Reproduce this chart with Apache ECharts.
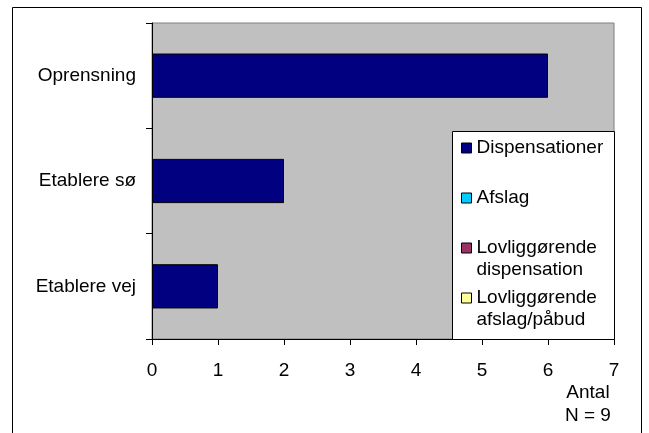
<!DOCTYPE html>
<html>
<head>
<meta charset="utf-8">
<script src="https://cdn.jsdelivr.net/npm/echarts@6/dist/echarts.min.js"></script>
<style>
html,body{margin:0;padding:0;background:#fff;}
#chart{width:649px;height:433px;}
</style>
</head>
<body>
<div id="chart"></div>
<script>
// Data
var categories = ['Etablere vej', 'Etablere sø', 'Oprensning'];
var seriesNames = ['Dispensationer', 'Afslag', 'Lovliggørende dispensation', 'Lovliggørende afslag/påbud'];
var dispensationer = [1, 2, 6];
var afslag = ['-', '-', '-'];
var lovligDisp = ['-', '-', '-'];
var lovligAfslag = ['-', '-', '-'];
var seriesColors = ['#000080', '#00CCFF', '#993366', '#FFFF99'];
var xTicks = [0, 1, 2, 3, 4, 5, 6, 7];
var axisTitle = 'Antal';
var nNote = 'N = 9';

var seriesData = [dispensationer, afslag, lovligDisp, lovligAfslag];
var FONT = 'Liberation Sans, Arial, sans-serif';

var chart = echarts.init(document.getElementById('chart'), null, {renderer: 'canvas'});

// each legend label has three lines; the icon is centred on the middle one
var legendLabels = {
  'Dispensationer': '\u00a0\nDispensationer\n\u00a0',
  'Afslag': '\u00a0\nAfslag\n\u00a0',
  'Lovliggørende dispensation': '\u00a0\nLovliggørende\ndispensation',
  'Lovliggørende afslag/påbud': '\u00a0\nLovliggørende\nafslag/påbud'
};

var option = {
  backgroundColor: '#ffffff',
  animation: false,
  grid: {
    left: 152, top: 23, right: 35, bottom: 94,
    show: true,
    backgroundColor: '#C0C0C0',
    borderColor: '#808080',
    borderWidth: 1
  },
  xAxis: {
    type: 'value',
    min: xTicks[0],
    max: xTicks[xTicks.length - 1],
    interval: 1,
    axisLine: {show: true, onZero: false, lineStyle: {color: '#000', width: 1}},
    axisTick: {show: true, inside: false, length: 6, lineStyle: {color: '#000'}},
    axisLabel: {color: '#000', fontSize: 19, fontFamily: FONT, margin: 22},
    splitLine: {show: false}
  },
  yAxis: {
    type: 'category',
    data: categories,
    axisLine: {show: true, lineStyle: {color: '#000', width: 1}},
    axisTick: {show: true, inside: false, length: 6, alignWithLabel: false, lineStyle: {color: '#000'}},
    axisLabel: {color: '#000', fontSize: 19, fontFamily: FONT, margin: 16},
    splitLine: {show: false}
  },
  legend: {
    orient: 'vertical',
    left: 461,
    top: 115,
    padding: 0,
    itemGap: -16,
    itemWidth: 10,
    itemHeight: 10,
    icon: 'rect',
    selectedMode: false,
    z: 10,
    itemStyle: {borderColor: '#000', borderWidth: 1},
    textStyle: {color: '#000', fontSize: 19, fontFamily: FONT, lineHeight: 22},
    formatter: function (name) { return legendLabels[name] || name; },
    data: seriesNames
  },
  graphic: [
    {
      type: 'rect',
      silent: true,
      z: 100,
      shape: {x: 12.5, y: 7.5, width: 629, height: 500},
      style: {fill: 'none', stroke: '#000', lineWidth: 1}
    },
    {
      type: 'rect',
      silent: true,
      z: 5,
      shape: {x: 452.5, y: 131.5, width: 162, height: 208},
      style: {fill: '#fff', stroke: '#000', lineWidth: 1}
    },
    {
      type: 'text',
      silent: true,
      z: 100,
      left: 565,
      top: 381,
      style: {
        text: axisTitle + '\n' + nNote,
        fill: '#000',
        font: '19px Liberation Sans, Arial, sans-serif',
        lineHeight: 23,
        textAlign: 'center'
      }
    }
  ],
  series: seriesNames.map(function (name, i) {
    return {
      name: name,
      type: 'bar',
      stack: 'all',
      barCategoryGap: '58%',
      data: seriesData[i],
      itemStyle: {color: seriesColors[i], borderColor: '#000', borderWidth: 1}
    };
  })
};

chart.setOption(option);
</script>
</body>
</html>
